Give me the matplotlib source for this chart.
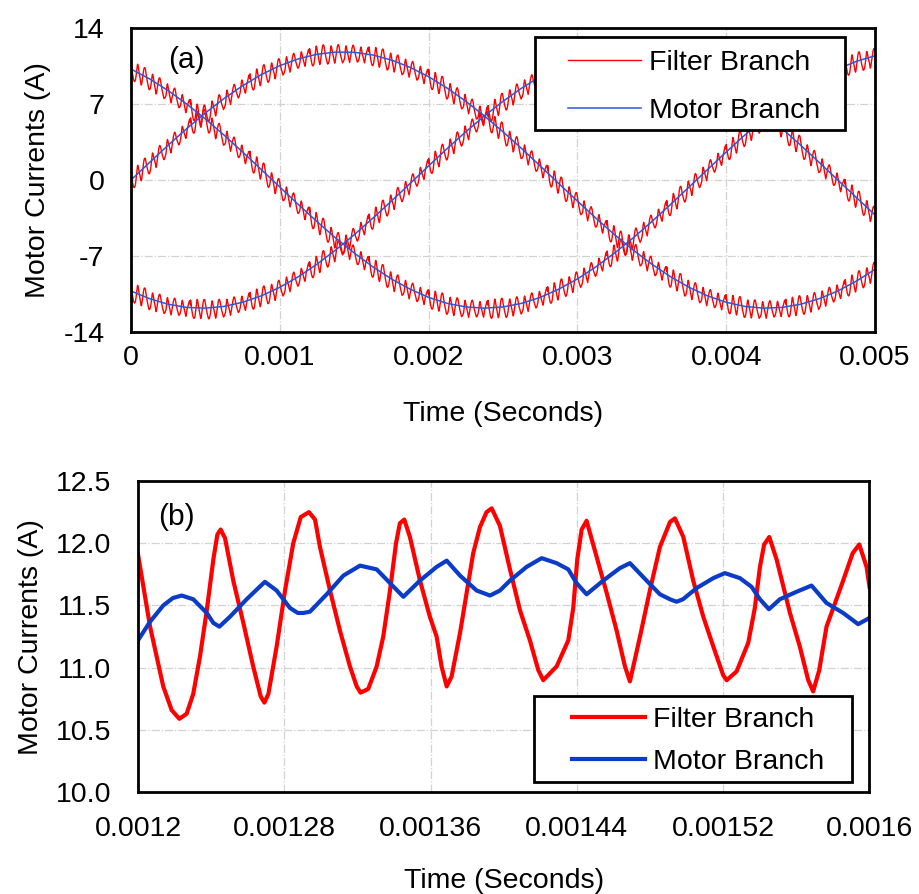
import numpy as np
import matplotlib.pyplot as plt
from matplotlib.patches import Rectangle

plt.rcParams['font.family'] = ['Liberation Sans', 'DejaVu Sans']
plt.rcParams['axes.unicode_minus'] = False

# (a) motor branch phase currents, one sample every 125 us over 0 - 5 ms
t_a = np.linspace(0, 0.005, 41)
ia_motor = [0.00, 1.62, 3.21, 4.74, 6.18, 7.50, 8.68, 9.70, 10.53, 11.16, 11.58,
            11.78, 11.76, 11.51, 11.05, 10.38, 9.51, 8.46, 7.25, 5.90, 4.44,
            2.90, 1.30, -0.33, -1.94, -3.52, -5.04, -6.45, -7.75, -8.90, -9.88,
            -10.67, -11.26, -11.64, -11.80, -11.73, -11.44, -10.93, -10.22, -9.31, -8.23]
ib_motor = [10.22, 9.31, 8.23, 6.99, 5.62, 4.14, 2.58, 0.97, -0.65, -2.26, -3.83,
            -5.33, -6.72, -7.99, -9.11, -10.05, -10.81, -11.36, -11.69, -11.80, -11.69,
            -11.36, -10.81, -10.05, -9.11, -7.99, -6.72, -5.33, -3.83, -2.26, -0.65,
            0.97, 2.58, 4.14, 5.62, 6.99, 8.23, 9.31, 10.22, 10.93, 11.44]
ic_motor = [-10.22, -10.93, -11.44, -11.73, -11.80, -11.64, -11.26, -10.67, -9.88, -8.90, -7.75,
            -6.45, -5.04, -3.52, -1.94, -0.33, 1.30, 2.90, 4.44, 5.90, 7.25,
            8.46, 9.51, 10.38, 11.05, 11.51, 11.76, 11.78, 11.58, 11.16, 10.53,
            9.70, 8.68, 7.50, 6.18, 4.74, 3.21, 1.62, 0.00, -1.62, -3.21]

# (b) close-up of phase a near its peak, times in microseconds after 1.2 ms
tb_filter_us = [0, 6.6, 13.8, 18.4, 22.6, 26.6, 30.2, 33.9, 37.6, 41.2, 43.4, 45.2, 47.6,
                52.1, 57.6, 63.0, 67.1, 69.1, 71.3, 75.8, 80.4, 84.9, 89.0, 93.5, 96.8,
                99.5, 105.0, 110.4, 115.9, 119.6, 121.7, 125.9, 130.5, 134.1, 137.8, 141.1,
                143.2, 145.6, 148.7, 154.2, 159.6, 163.3, 166.0, 168.8, 171.5, 176.1, 179.7,
                183.3, 187.0, 190.6, 193.4, 197.9, 203.4, 208.9, 214.3, 218.9, 221.6, 228.9,
                235.3, 238.0, 240.2, 242.6, 245.3, 250.8, 256.3, 261.7, 266.3, 269.0, 274.5,
                279.9, 285.4, 290.9, 293.6, 298.2, 303.6, 309.1, 314.6, 320.0, 321.9, 327.3,
                333.7, 337.3, 340.1, 342.4, 345.2, 349.2, 356.5, 361.9, 366.5, 369.2, 372.5,
                376.5, 380.2, 385.6, 390.8, 394.4, 398.4, 400.0]
filter_b = [11.91, 11.33, 10.85, 10.66, 10.59, 10.63, 10.79, 11.09, 11.46, 11.87, 12.07, 12.11, 12.04,
            11.70, 11.36, 11.01, 10.77, 10.72, 10.79, 11.17, 11.62, 12.00, 12.21, 12.25, 12.19,
            11.97, 11.62, 11.30, 11.01, 10.85, 10.80, 10.83, 11.01, 11.25, 11.62, 12.00,
            12.16, 12.19, 12.05, 11.70, 11.41, 11.25, 11.01, 10.85, 10.93, 11.28, 11.60,
            11.92, 12.13, 12.25, 12.28, 12.14, 11.79, 11.46, 11.22, 10.98, 10.90, 11.01,
            11.22, 11.48, 11.87, 12.11, 12.18, 11.89, 11.60, 11.30, 11.01, 10.89, 11.25,
            11.62, 11.97, 12.17, 12.20, 12.05, 11.70, 11.41, 11.17, 10.94, 10.90, 10.97,
            11.20, 11.48, 11.81, 11.99, 12.05, 11.87, 11.44, 11.17, 10.90, 10.81, 10.98,
            11.33, 11.48, 11.70, 11.92, 11.99, 11.81, 11.65]
tb_motor_us = [0, 6.6, 13.8, 19.1, 23.9, 30.2, 37.6, 41.2, 44.5, 50.3, 59.4, 65.8, 69.4,
               75.8, 83.1, 87.4, 90.4, 94.0, 103.2, 112.3, 121.4, 130.5, 137.8, 145.1,
               154.2, 163.3, 168.8, 176.1, 185.2, 192.5, 197.9, 203.4, 212.5, 220.7, 228.9,
               235.3, 239.8, 245.3, 254.4, 263.5, 269.0, 278.1, 285.4, 290.9, 294.5, 298.0,
               305.5, 314.6, 320.9, 329.1, 335.5, 340.1, 345.0, 351.0, 360.1, 368.3, 376.5,
               385.6, 393.8, 400.0]
motor_b = [11.22, 11.37, 11.50, 11.56, 11.58, 11.55, 11.44, 11.36, 11.33, 11.41, 11.55, 11.64, 11.69,
           11.62, 11.48, 11.44, 11.44, 11.45, 11.59, 11.74, 11.82, 11.79, 11.68, 11.57,
           11.70, 11.81, 11.86, 11.74, 11.62, 11.58, 11.62, 11.70, 11.81, 11.88, 11.84,
           11.79, 11.68, 11.59, 11.70, 11.80, 11.84, 11.70, 11.59, 11.55, 11.53, 11.55,
           11.64, 11.72, 11.76, 11.72, 11.65, 11.55, 11.47, 11.55, 11.61, 11.66, 11.52,
           11.44, 11.35, 11.40]

xticks_a = [0, 0.001, 0.002, 0.003, 0.004, 0.005]
xticklabels_a = ['0', '0.001', '0.002', '0.003', '0.004', '0.005']
yticks_a = [-14, -7, 0, 7, 14]
xticks_b = [0.0012, 0.00128, 0.00136, 0.00144, 0.00152, 0.0016]
xticklabels_b = ['0.0012', '0.00128', '0.00136', '0.00144', '0.00152', '0.0016']
yticks_b = [10.0, 10.5, 11.0, 11.5, 12.0, 12.5]
yticklabels_b = ['10.0', '10.5', '11.0', '11.5', '12.0', '12.5']

RED = '#ff0000'
BLUE_A = '#2e55d8'
BLUE_B = '#0a3cc8'
FS = 20.5

tb_filter = 1.2e-3 + np.array(tb_filter_us) * 1e-6
tb_motor = 1.2e-3 + np.array(tb_motor_us) * 1e-6

# switching ripple of the filter branch (filter minus motor over the 0.4 ms
# close-up), repeated along the whole 5 ms record of panel (a)
ripple = np.array(filter_b) - np.interp(tb_filter, tb_motor, motor_b)
window = 0.0004
n_win = 13
t_fine = np.concatenate([tb_filter - 1.2e-3 + k * window for k in range(n_win)])
rip_fine = np.tile(ripple, n_win)
keep = t_fine <= 0.005
t_fine, rip_fine = t_fine[keep], rip_fine[keep]


def style(ax):
    for s in ax.spines.values():
        s.set_linewidth(2.0)
        s.set_color('black')
    ax.grid(True, color='#d2d2d2', linestyle='-.', linewidth=0.9)
    ax.set_axisbelow(True)
    ax.tick_params(length=0, labelsize=FS)


def boxed_legend(ax, box, anchor, spacing):
    x0, y0, x1, y1 = box
    ax.add_patch(Rectangle((x0, y0), x1 - x0, y1 - y0, transform=ax.transAxes,
                           facecolor='white', edgecolor='black', lw=2.0, zorder=4))
    leg = ax.legend(loc='upper left', bbox_to_anchor=anchor, borderaxespad=0,
                    borderpad=0, frameon=False, fontsize=FS, handlelength=2.55,
                    handletextpad=0.3, labelspacing=spacing)
    leg.set_zorder(5)


fig = plt.figure(figsize=(9.2, 8.94), dpi=100)
ax1 = fig.add_axes([0.1424, 0.6286, 0.8087, 0.3401])
ax2 = fig.add_axes([0.1500, 0.1138, 0.7951, 0.3482])

# (a) three phases, filter branch under motor branch
phases = [ia_motor, ib_motor, ic_motor]
for i, ph in enumerate(phases):
    ax1.plot(t_fine, np.interp(t_fine, t_a, ph) + rip_fine, color=RED, lw=1.0,
             label='Filter Branch' if i == 0 else None)
for i, ph in enumerate(phases):
    ax1.plot(t_a, ph, color=BLUE_A, lw=1.1, label='Motor Branch' if i == 0 else None)

style(ax1)
ax1.set_xlim(0, 0.005)
ax1.set_ylim(-14, 14)
ax1.set_xticks(xticks_a)
ax1.set_xticklabels(xticklabels_a)
ax1.set_yticks(yticks_a)
ax1.tick_params(axis='y', pad=19)
ax1.tick_params(axis='x', pad=9)
ax1.set_xlabel('Time (Seconds)', fontsize=FS, labelpad=22)
ax1.set_ylabel('Motor Currents (A)', fontsize=FS, labelpad=9)
ax1.text(0.074, 0.895, '(a)', transform=ax1.transAxes, fontsize=21.5,
         ha='center', va='center')
boxed_legend(ax1, (0.543, 0.6645, 0.9597, 0.9704), (0.5874, 0.9276), 0.78)

# (b) close-up
ax2.plot(tb_filter, filter_b, color=RED, lw=3.0, label='Filter Branch',
         solid_joinstyle='round')
ax2.plot(tb_motor, motor_b, color=BLUE_B, lw=3.0, label='Motor Branch',
         solid_joinstyle='round')

style(ax2)
ax2.set_xlim(0.0012, 0.0016)
ax2.set_ylim(10.0, 12.5)
ax2.set_xticks(xticks_b)
ax2.set_xticklabels(xticklabels_b)
ax2.set_yticks(yticks_b)
ax2.set_yticklabels(yticklabels_b)
ax2.tick_params(axis='y', pad=19)
ax2.tick_params(axis='x', pad=17)
ax2.set_xlabel('Time (Seconds)', fontsize=FS, labelpad=19)
ax2.set_ylabel('Motor Currents (A)', fontsize=FS, labelpad=9)
ax2.text(0.052, 0.8855, '(b)', transform=ax2.transAxes, fontsize=21.5,
         ha='center', va='center')
boxed_legend(ax2, (0.5413, 0.0331, 0.976, 0.3093), (0.5932, 0.274), 0.57)

fig.savefig('out.png', dpi=100)
